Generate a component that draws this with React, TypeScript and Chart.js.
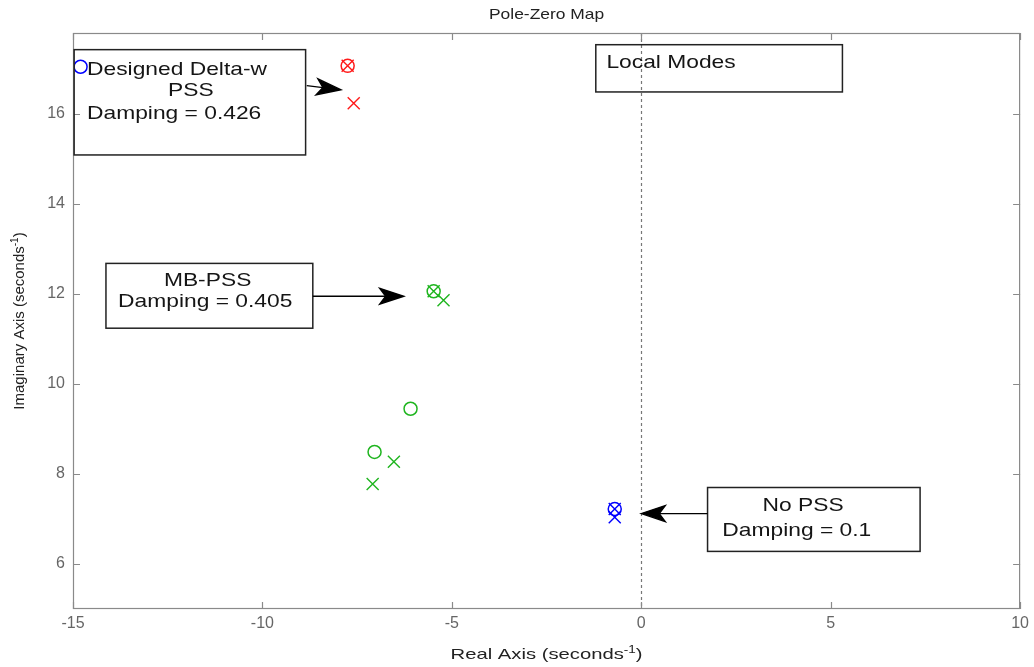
import React, { useEffect, useRef } from "react";
import { Chart, registerables } from "chart.js";

Chart.register(...registerables);

// ---- data ----
const xTicks = [-15, -10, -5, 0, 5, 10];
const yTicks = [6, 8, 10, 12, 14, 16];
const xRange = [-15, 10];
const yRange = [5, 17.8];

const blueZeros = [
  { x: -14.8, y: 17.05 },
  { x: -0.7, y: 7.22 },
];
const bluePoles = [
  { x: -0.7, y: 7.22 },
  { x: -0.7, y: 7.04 },
];
const redZeros = [{ x: -7.75, y: 17.07 }];
const redPoles = [
  { x: -7.75, y: 17.07 },
  { x: -7.59, y: 16.24 },
];
const greenZeros = [
  { x: -5.48, y: 12.06 },
  { x: -6.09, y: 9.45 },
  { x: -7.04, y: 8.49 },
];
const greenPoles = [
  { x: -5.48, y: 12.06 },
  { x: -5.22, y: 11.86 },
  { x: -6.53, y: 8.27 },
  { x: -7.09, y: 7.78 },
];

// annotation text boxes (data coordinates)
const boxDesigned = { x1: -14.97, x2: -8.86, y1: 17.43, y2: 15.09 };
const boxMB = { x1: -14.13, x2: -8.67, y1: 12.68, y2: 11.24 };
const boxLocal = { x1: -1.2, x2: 5.31, y1: 17.54, y2: 16.49 };
const boxNoPSS = { x1: 1.75, x2: 7.36, y1: 7.7, y2: 6.28 };

const textsDesigned = [
  { text: "Designed Delta-w", x: -14.63, y: 16.98 },
  { text: "PSS", x: -12.49, y: 16.51 },
  { text: "Damping = 0.426", x: -14.63, y: 16.0 },
];
const textsMB = [
  { text: "MB-PSS", x: -12.6, y: 12.3 },
  { text: "Damping = 0.405", x: -13.81, y: 11.82 },
];
const textsLocal = [{ text: "Local Modes", x: -0.92, y: 17.14 }];
const textsNoPSS = [
  { text: "No PSS", x: 3.2, y: 7.29 },
  { text: "Damping = 0.1", x: 2.14, y: 6.74 },
];

const arrowDesigned = { from: [-8.83, 16.63], to: [-7.93, 16.54] };
const arrowMB = { from: [-8.67, 11.95], to: [-6.27, 11.95] };
const arrowNoPSS = { from: [1.75, 7.12], to: [0.0, 7.12] };

const titleText = "Pole-Zero Map";
const xTitle = ["Real Axis (seconds", "-1", ")"];
const yTitle = ["Imaginary Axis (seconds", "-1", ")"];

const FONT = "'Liberation Sans', Arial, sans-serif";

function drawScaled(ctx: CanvasRenderingContext2D, text: string, x: number, y: number, size: number, sx: number, align: CanvasTextAlign) {
  ctx.save();
  ctx.translate(x, y);
  ctx.scale(sx, 1);
  ctx.font = `${size}px ${FONT}`;
  ctx.textAlign = align;
  ctx.textBaseline = "middle";
  ctx.fillText(text, 0, 0);
  ctx.restore();
}

function drawSupTitle(ctx: CanvasRenderingContext2D, parts: string[], size: number, sx: number) {
  const supSize = Math.round(size * 0.65);
  ctx.font = `${size}px ${FONT}`;
  const w0 = ctx.measureText(parts[0]).width * sx;
  const w2 = ctx.measureText(parts[2]).width * sx;
  ctx.font = `${supSize}px ${FONT}`;
  const w1 = ctx.measureText(parts[1]).width * sx;
  let cx = -(w0 + w1 + w2) / 2;
  drawScaled(ctx, parts[0], cx, 0, size, sx, "left");
  cx += w0;
  drawScaled(ctx, parts[1], cx, -size * 0.35, supSize, sx, "left");
  cx += w1;
  drawScaled(ctx, parts[2], cx, 0, size, sx, "left");
}

function drawArrow(ctx: CanvasRenderingContext2D, x1: number, y1: number, x2: number, y2: number) {
  const ang = Math.atan2(y2 - y1, x2 - x1);
  const dx = Math.cos(ang), dy = Math.sin(ang);
  const px = -dy, py = dx;
  const L = 24, W = 8, N = 6;
  ctx.save();
  ctx.strokeStyle = "#000";
  ctx.fillStyle = "#000";
  ctx.lineWidth = 1.4;
  ctx.beginPath();
  ctx.moveTo(x1, y1);
  ctx.lineTo(x2 - dx * (L - N), y2 - dy * (L - N));
  ctx.stroke();
  const bx = x2 - dx * L, by = y2 - dy * L;
  ctx.beginPath();
  ctx.moveTo(x2, y2);
  ctx.lineTo(bx + px * W, by + py * W);
  ctx.lineTo(x2 - dx * (L - N), y2 - dy * (L - N));
  ctx.lineTo(bx - px * W, by - py * W);
  ctx.closePath();
  ctx.fill();
  ctx.stroke();
  ctx.restore();
}

const pzPlugin = {
  id: "pzPlugin",
  beforeDatasetsDraw(chart: any) {
    const { ctx, chartArea, scales } = chart;
    const x0 = Math.round(scales.x.getPixelForValue(0)) + 0.5;
    ctx.save();
    ctx.strokeStyle = "#777";
    ctx.lineWidth = 1.2;
    ctx.setLineDash([3, 3]);
    ctx.beginPath();
    ctx.moveTo(x0, chartArea.top);
    ctx.lineTo(x0, chartArea.bottom);
    ctx.stroke();
    ctx.restore();
  },
  afterDraw(chart: any) {
    const { ctx, chartArea, scales } = chart;
    const { left, right, top, bottom } = chartArea;
    const sx = scales.x, sy = scales.y;
    ctx.save();
    ctx.strokeStyle = "#8a8a8a";
    ctx.lineWidth = 1.2;
    ctx.strokeRect(left + 0.5, top + 0.5, right - left - 1, bottom - top - 1);
    ctx.beginPath();
    xTicks.forEach((v) => {
      const p = Math.round(sx.getPixelForValue(v)) + 0.5;
      ctx.moveTo(p, bottom);
      ctx.lineTo(p, bottom - 7);
      ctx.moveTo(p, top);
      ctx.lineTo(p, top + 7);
    });
    yTicks.forEach((v) => {
      const p = Math.round(sy.getPixelForValue(v)) + 0.5;
      ctx.moveTo(left, p);
      ctx.lineTo(left + 7, p);
      ctx.moveTo(right, p);
      ctx.lineTo(right - 7, p);
    });
    ctx.stroke();

    const boxes = [boxDesigned, boxMB, boxLocal, boxNoPSS];
    ctx.strokeStyle = "#222";
    ctx.lineWidth = 1.5;
    boxes.forEach((b) => {
      const x1 = sx.getPixelForValue(b.x1), x2 = sx.getPixelForValue(b.x2);
      const y1 = sy.getPixelForValue(b.y1), y2 = sy.getPixelForValue(b.y2);
      ctx.strokeRect(x1, y1, x2 - x1, y2 - y1);
    });
    ctx.fillStyle = "#151515";
    [...textsDesigned, ...textsMB, ...textsLocal, ...textsNoPSS].forEach((t) => {
      drawScaled(ctx, t.text, sx.getPixelForValue(t.x), sy.getPixelForValue(t.y), 19, 1.2, "left");
    });
    [arrowDesigned, arrowMB, arrowNoPSS].forEach((a) => {
      drawArrow(
        ctx,
        sx.getPixelForValue(a.from[0]),
        sy.getPixelForValue(a.from[1]),
        sx.getPixelForValue(a.to[0]),
        sy.getPixelForValue(a.to[1])
      );
    });

    ctx.fillStyle = "#222";
    drawScaled(ctx, titleText, (left + right) / 2, 15, 14.5, 1.2, "center");
    ctx.save();
    ctx.translate((left + right) / 2, 655);
    drawSupTitle(ctx, xTitle, 15, 1.35);
    ctx.restore();
    ctx.save();
    ctx.translate(20, (top + bottom) / 2);
    ctx.rotate(-Math.PI / 2);
    drawSupTitle(ctx, yTitle, 15, 1.0);
    ctx.restore();
    ctx.restore();
  },
};

export default function App() {
  const ref = useRef<HTMLCanvasElement | null>(null);
  useEffect(() => {
    if (!ref.current) return;
    const zeroStyle = (color: string) => ({
      pointStyle: "circle",
      pointRadius: 6.5,
      pointBorderColor: color,
      pointBackgroundColor: "rgba(0,0,0,0)",
      pointBorderWidth: 1.5,
      showLine: false,
    });
    const poleStyle = (color: string) => ({
      pointStyle: "crossRot",
      pointRadius: 8.5,
      pointBorderColor: color,
      pointBackgroundColor: color,
      pointBorderWidth: 1.4,
      showLine: false,
    });
    const blue = "#0000ff", red = "#ff1a1a", green = "#1fb51f";
    const chart = new Chart(ref.current, {
      type: "scatter",
      data: {
        datasets: [
          { label: "blue zeros", data: blueZeros, ...zeroStyle(blue) },
          { label: "blue poles", data: bluePoles, ...poleStyle(blue) },
          { label: "red zeros", data: redZeros, ...zeroStyle(red) },
          { label: "red poles", data: redPoles, ...poleStyle(red) },
          { label: "green zeros", data: greenZeros, ...zeroStyle(green) },
          { label: "green poles", data: greenPoles, ...poleStyle(green) },
        ] as any,
      },
      options: {
        animation: false,
        responsive: true,
        maintainAspectRatio: false,
        layout: { padding: { top: 33, right: 13, left: 0, bottom: 0 } },
        plugins: {
          legend: { display: false },
          tooltip: { enabled: false },
          title: { display: false },
        },
        scales: {
          x: {
            type: "linear",
            min: xRange[0],
            max: xRange[1],
            afterBuildTicks: (s: any) => {
              s.ticks = xTicks.map((v) => ({ value: v }));
            },
            afterFit: (s: any) => {
              s.height = 58;
            },
            grid: { display: false, drawTicks: false },
            border: { display: false },
            ticks: {
              padding: 5,
              color: "#666",
              font: { family: FONT, size: 16 },
              callback: (v: any) => String(v),
            },
          },
          y: {
            type: "linear",
            min: yRange[0],
            max: yRange[1],
            afterBuildTicks: (s: any) => {
              s.ticks = yTicks.map((v) => ({ value: v }));
            },
            afterFit: (s: any) => {
              s.width = 73;
            },
            grid: { display: false, drawTicks: false },
            border: { display: false },
            ticks: {
              padding: 8,
              color: "#666",
              font: { family: FONT, size: 16 },
              callback: (v: any) => String(v),
            },
          },
        },
      } as any,
      plugins: [pzPlugin],
    });
    return () => chart.destroy();
  }, []);
  return (
    <div style={{ position: "fixed", left: 0, top: 0, width: 1034, height: 667, background: "#fff" }}>
      <canvas ref={ref} />
    </div>
  );
}
